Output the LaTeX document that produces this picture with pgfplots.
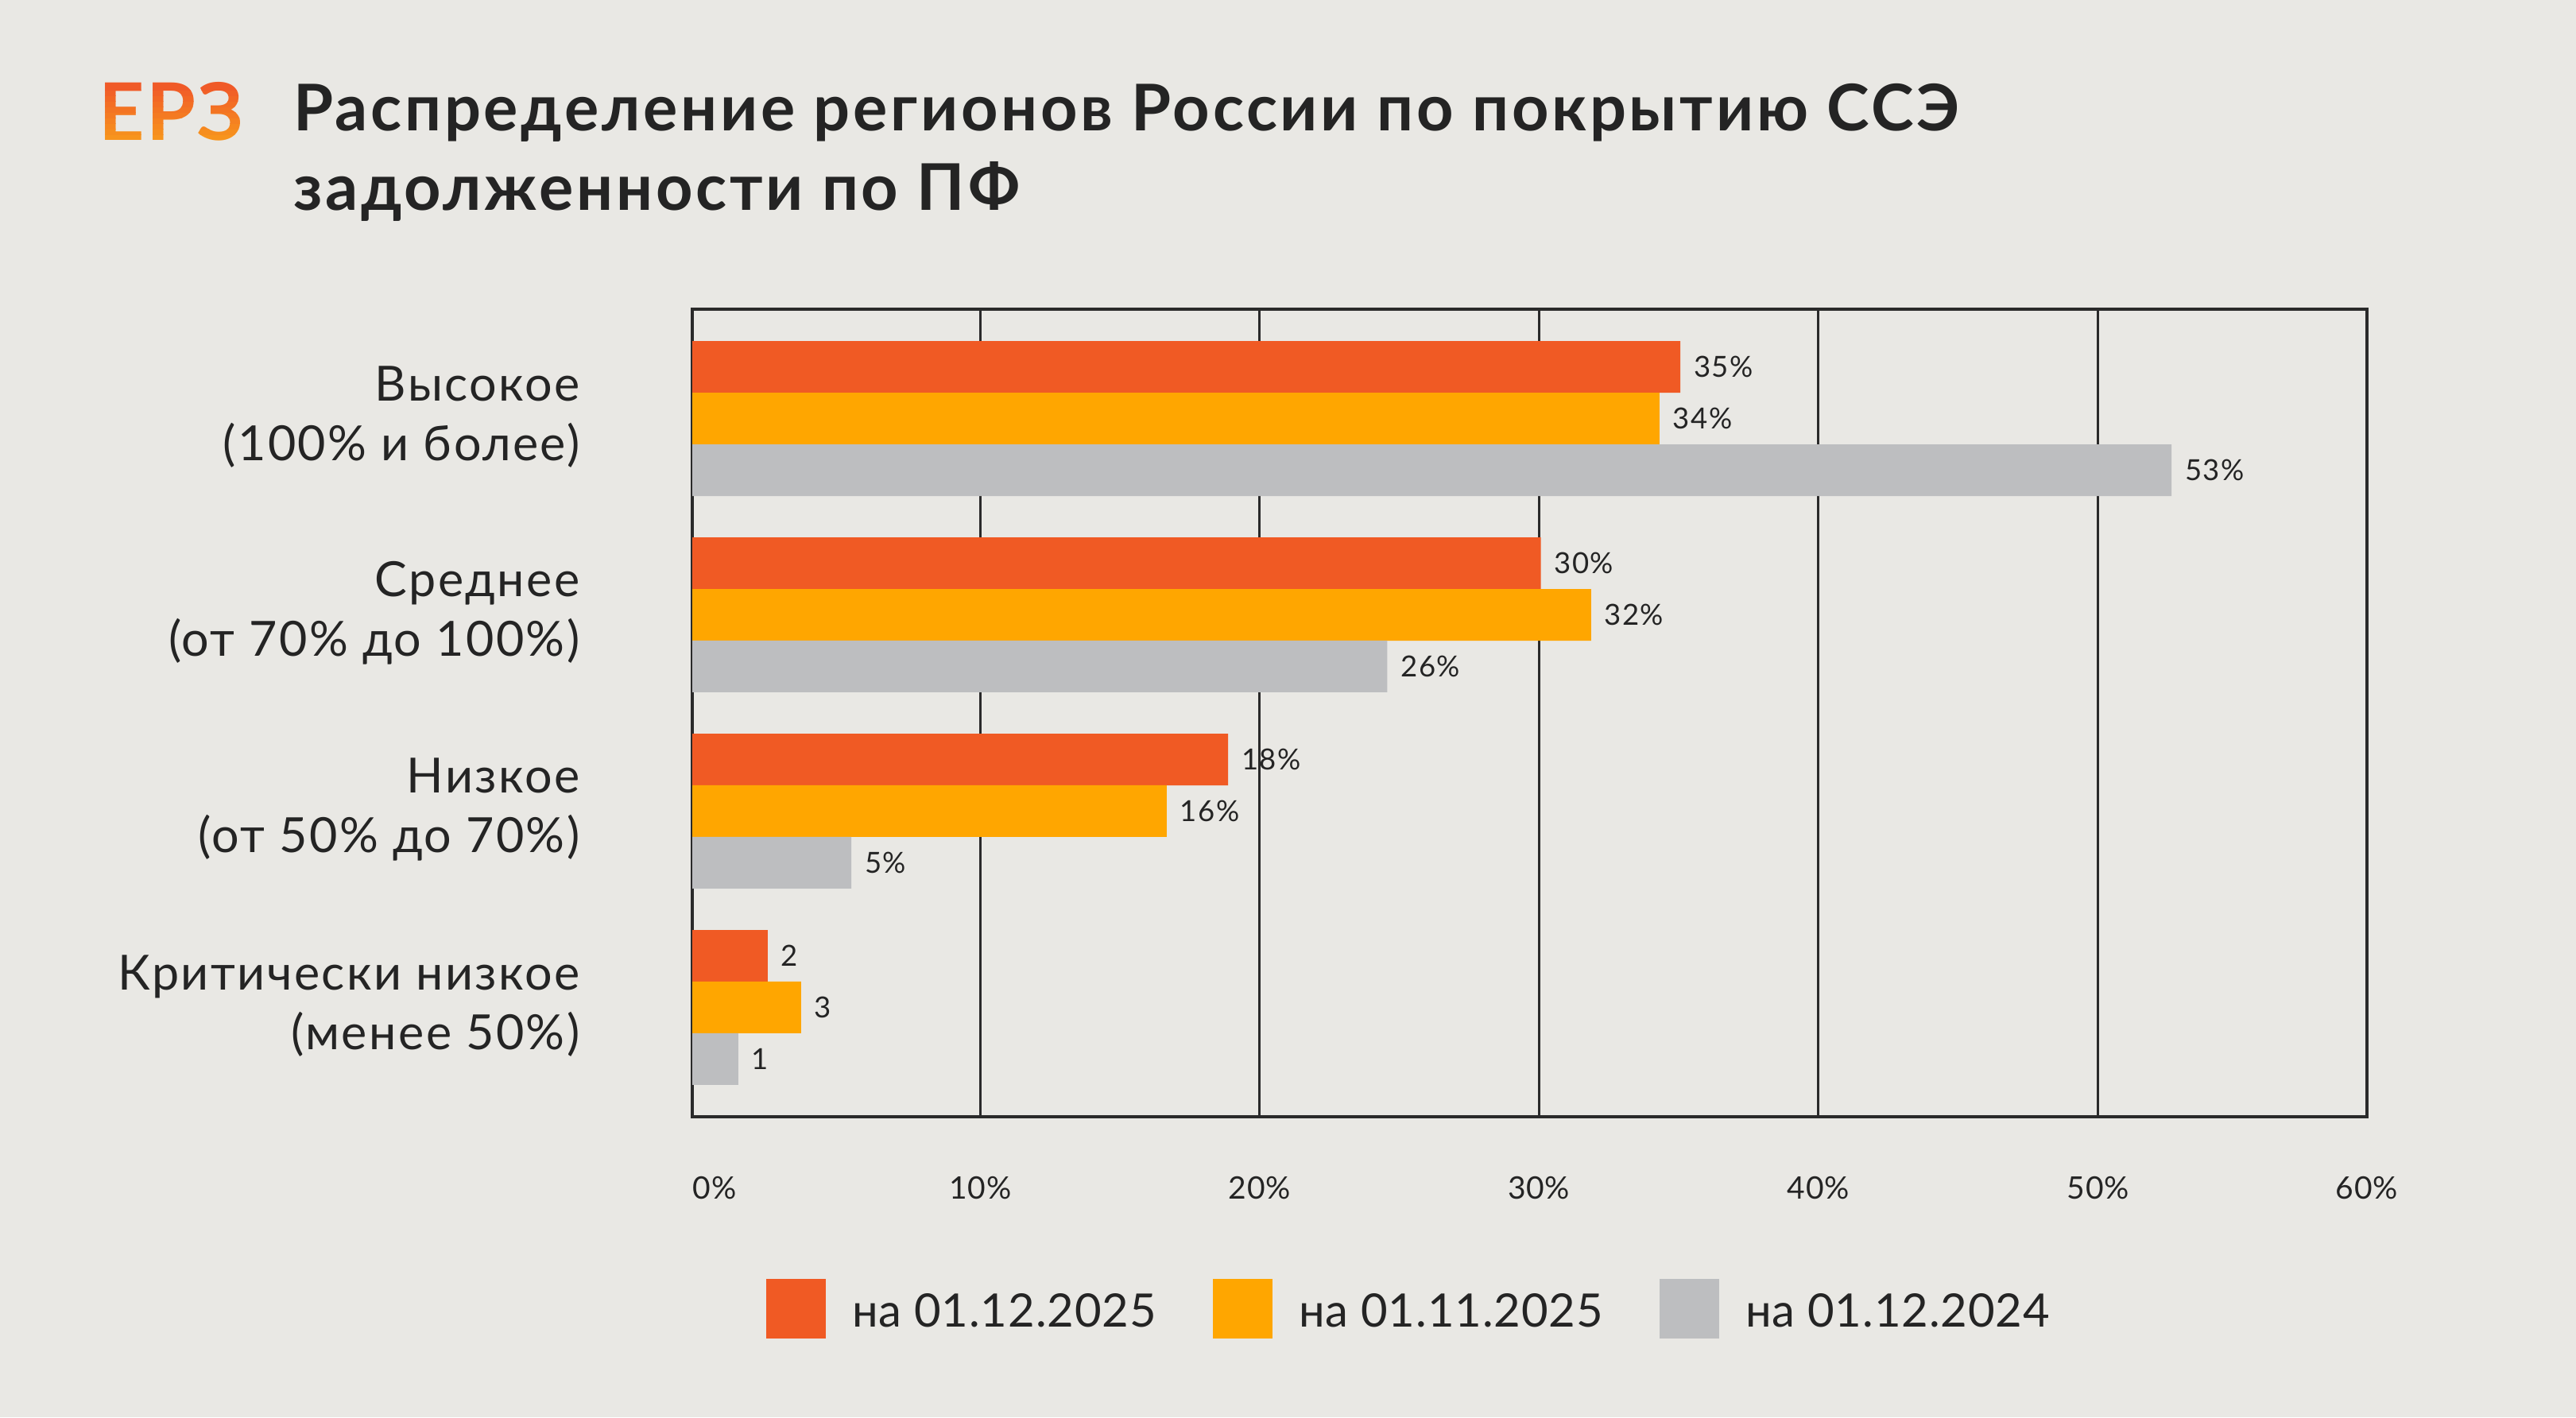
\documentclass[border=0pt]{standalone}
\usepackage{fontspec}
\setmainfont{Lato}
\usepackage{pgfplots}
\pgfplotsset{compat=1.18}
\definecolor{bg}{HTML}{E9E8E4}
\definecolor{cA}{HTML}{F05A24}
\definecolor{cB}{HTML}{FFA600}
\definecolor{cC}{HTML}{BDBEC0}
\definecolor{txt}{HTML}{242424}
\definecolor{ax}{HTML}{2A2A2A}
\definecolor{lgTop}{HTML}{F05A28}
\definecolor{lgBot}{HTML}{F7941D}
\begin{document}
\begin{tikzpicture}
\fill[bg] (0pt,0pt) rectangle (648.2pt,356.6pt);
\foreach \i in {0,...,9}{
  \pgfmathtruncatemacro\p{100*\i/9}
  \pgfmathsetmacro\ya{\i==0 ? 300 : 321.2+1.4*\i}
  \pgfmathsetmacro\yb{\i==9 ? 350 : 321.2+1.4*(\i+1)}
  \begin{scope}
    \clip (10pt,\ya pt) rectangle (70pt,\yb pt);
    \node[anchor=base west, inner sep=0pt, font=\bfseries\fontsize{20}{20}\selectfont\addfontfeature{LetterSpace=3}, text=lgTop!\p!lgBot] at (24.6pt,321.2pt) {ЕРЗ};
  \end{scope}
}
\node[anchor=base west, inner sep=0pt, font=\bfseries\fontsize{16.2}{20}\selectfont\addfontfeature{LetterSpace=4.6}, text=txt] at (73.6pt,323.6pt) {Распределение регионов России по покрытию ССЭ};
\node[anchor=base west, inner sep=0pt, font=\bfseries\fontsize{16.2}{20}\selectfont\addfontfeature{LetterSpace=4.6}, text=txt] at (73.6pt,303.6pt) {задолженности по ПФ};
\begin{axis}[
  at={(174.2pt,75.6pt)}, anchor=south west,
  scale only axis, width=421.4pt, height=203.2pt,
  xbar, bar width=13pt, bar shift=0pt,
  xmin=0, xmax=60, ymin=-0.557, ymax=3.557, y dir=reverse,
  xtick={10.32,20.33,30.33,40.35,50.37,60},
  xticklabels={10\%,20\%,30\%,40\%,50\%,60\%},
  extra x ticks={0},
  extra x tick labels={0\%},
  extra x tick style={xticklabel style={xshift=5.6pt}},
  /pgf/number format/assume math mode=true,
  xmajorgrids, major grid style={ax, line width=0.6pt},
  axis line style={ax, line width=0.9pt},
  major tick length=0pt,
  xticklabel style={font=\fontsize{7.8}{9}\selectfont\addfontfeature{LetterSpace=2}, text=txt, anchor=north, inner sep=0pt, yshift=-14.8pt},
  ytick={0,1,2,3},
  yticklabels={{Высокое\\(100\% и более)},{Среднее\\(от 70\% до 100\%)},{Низкое\\(от 50\% до 70\%)},{Критически низкое\\(менее 50\%)}},
  yticklabel style={align=right, font=\fontsize{12.2}{15}\selectfont\addfontfeature{LetterSpace=4}, text=txt, anchor=east, inner sep=0pt, xshift=-28.1pt, yshift=0.4pt},
  point meta=explicit symbolic,
  nodes near coords,
  every node near coord/.append style={font=\fontsize{7.3}{8}\selectfont\addfontfeature{LetterSpace=4}, text=txt, anchor=west, inner sep=0pt, xshift=3.2pt},
  legend image code/.code={\fill[#1] (0pt,-6.4pt) rectangle (15pt,8.6pt);},
  legend columns=3,
  legend cell align=left,
  legend style={at={(0.0437,-0.238)}, anchor=west, draw=none, fill=none, inner sep=0pt,
    font=\fontsize{11.6}{14}\selectfont\addfontfeature{LetterSpace=1.6}, text=txt, nodes={inner sep=0pt},
    /tikz/every odd column/.append style={column sep=6.6pt},
    /tikz/every even column/.append style={column sep=14.2pt}},
]
\addplot[fill=cA, draw=none] coordinates {(35.4,-0.263) [35\%] (30.4,0.737) [30\%] (19.2,1.737) [18\%] (2.7,2.737) [2]};
\addlegendentry{на 01.12.2025}
\addplot[fill=cB, draw=none] coordinates {(34.65,0) [34\%] (32.2,1) [32\%] (17.0,2) [16\%] (3.9,3) [3]};
\addlegendentry{на 01.11.2025}
\addplot[fill=cC, draw=none] coordinates {(53.0,0.263) [53\%] (24.9,1.263) [26\%] (5.7,2.263) [5\%] (1.65,3.263) [1]};
\addlegendentry{на 01.12.2024}
\end{axis}
\end{tikzpicture}
\end{document}
